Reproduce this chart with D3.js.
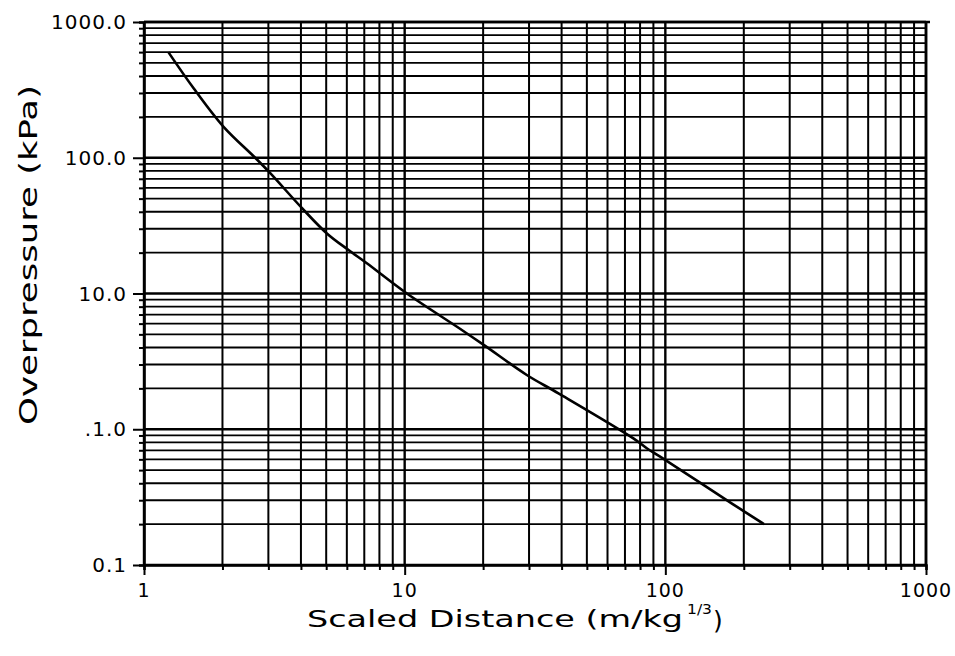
<!DOCTYPE html>
<html>
<head>
<meta charset="utf-8">
<script src="https://cdn.jsdelivr.net/npm/d3@7"></script>
<style>
  html, body { margin: 0; padding: 0; background: #fff; }
  svg { display: block; }
  text { font-family: "DejaVu Sans", sans-serif; fill: #000; }
</style>
</head>
<body>
<script>
// ---- data ----
const distance = [1.24, 1.55, 2.02, 2.67, 3.05, 4.04, 5.03, 6.09, 7.16, 10.2, 16.3, 20.1, 29.4, 38.9, 75.4, 84.9, 95.5, 182, 239];
const overpressure = [600, 325, 169, 100, 77, 42.5, 27.7, 20.9, 16.7, 10.0, 5.5, 4.18, 2.51, 1.84, 0.857, 0.724, 0.628, 0.28, 0.2];
const xTickValues = [1, 10, 100, 1000];
const xTickLabels = ["1", "10", "100", "1000"];
const yTickValues = [0.1, 1, 10, 100, 1000];
const yTickLabels = ["0.1", ".1.0", "10.0", "100.0", "1000.0"];
const xTitle = "Scaled Distance (m/kg";
const xTitleSup = "1/3";
const yTitle = "Overpressure (kPa)";

const W = 955, H = 656;
const L = 144, R = 926, T = 22, B = 565;

const svg = d3.select("body").append("svg").attr("width", W).attr("height", H);

const x = d3.scaleLog().domain([1, 1000]).range([L, R]);
const y = d3.scaleLog().domain([0.1, 1000]).range([B, T]);

const xAll = x.ticks();
const yAll = y.ticks();
const isMajor = v => Math.abs(Math.log10(v) - Math.round(Math.log10(v))) < 1e-9;

// grid
const g = svg.append("g");
g.selectAll("line.vg").data(xAll).join("line")
  .attr("x1", d => x(d)).attr("x2", d => x(d))
  .attr("y1", T).attr("y2", B)
  .attr("stroke", "#000").attr("stroke-width", d => isMajor(d) ? 2.4 : 2);
g.selectAll("line.hg").data(yAll).join("line")
  .attr("x1", L).attr("x2", R)
  .attr("y1", d => y(d)).attr("y2", d => y(d))
  .attr("stroke", "#000").attr("stroke-width", d => isMajor(d) ? 2.4 : 1.8);

// axes
const xAxis = d3.axisBottom(x).tickValues(xAll).tickSize(5).tickFormat("");
const yAxis = d3.axisLeft(y).tickValues(yAll).tickSize(5).tickFormat("");
const gx = svg.append("g").attr("transform", `translate(0,${B})`).call(xAxis);
const gy = svg.append("g").attr("transform", `translate(${L},0)`).call(yAxis);
[gx, gy].forEach(a => {
  a.select(".domain").attr("stroke", "#000").attr("stroke-width", 2.6);
  a.selectAll(".tick line").attr("stroke", "#000").attr("stroke-width", 2);
});
gx.selectAll(".tick").filter(d => isMajor(d)).select("line").attr("y2", 10);
gy.selectAll(".tick").filter(d => isMajor(d)).select("line").attr("x2", -11);

// frame top and right
svg.append("line").attr("x1", L).attr("x2", R + 4).attr("y1", T).attr("y2", T)
  .attr("stroke", "#000").attr("stroke-width", 2.6);
svg.append("line").attr("x1", R).attr("x2", R).attr("y1", T).attr("y2", B)
  .attr("stroke", "#000").attr("stroke-width", 2.6);

// tick labels
svg.append("g").selectAll("text").data(xTickValues).join("text")
  .attr("x", d => x(d)).attr("y", 597)
  .attr("text-anchor", "middle")
  .attr("font-size", 19).attr("letter-spacing", 1)
  .text((d, i) => xTickLabels[i]);
svg.append("g").selectAll("text").data(yTickValues).join("text")
  .attr("x", 127).attr("y", d => y(d) + 7)
  .attr("text-anchor", "end")
  .attr("font-size", 20).attr("letter-spacing", 1)
  .text((d, i) => yTickLabels[i]);

// curve
const pts = distance.map((d, i) => [d, overpressure[i]]);
svg.append("path").datum(pts)
  .attr("d", d3.line().x(d => x(d[0])).y(d => y(d[1])).curve(d3.curveCatmullRom.alpha(0.5)))
  .attr("fill", "none").attr("stroke", "#000").attr("stroke-width", 2.6);

// titles
svg.append("text").attr("x", 307).attr("y", 627)
  .attr("font-size", 23)
  .attr("textLength", 376).attr("lengthAdjust", "spacingAndGlyphs")
  .text(xTitle);
svg.append("text").attr("x", 687).attr("y", 614)
  .attr("font-size", 14)
  .attr("textLength", 25).attr("lengthAdjust", "spacingAndGlyphs")
  .text(xTitleSup);
svg.append("text").attr("x", 713).attr("y", 629)
  .attr("font-size", 25)
  .text(")");

svg.append("text")
  .attr("transform", "translate(37,255) rotate(-90)")
  .attr("text-anchor", "middle")
  .attr("font-size", 24)
  .attr("textLength", 340).attr("lengthAdjust", "spacingAndGlyphs")
  .text(yTitle);
</script>
</body>
</html>
